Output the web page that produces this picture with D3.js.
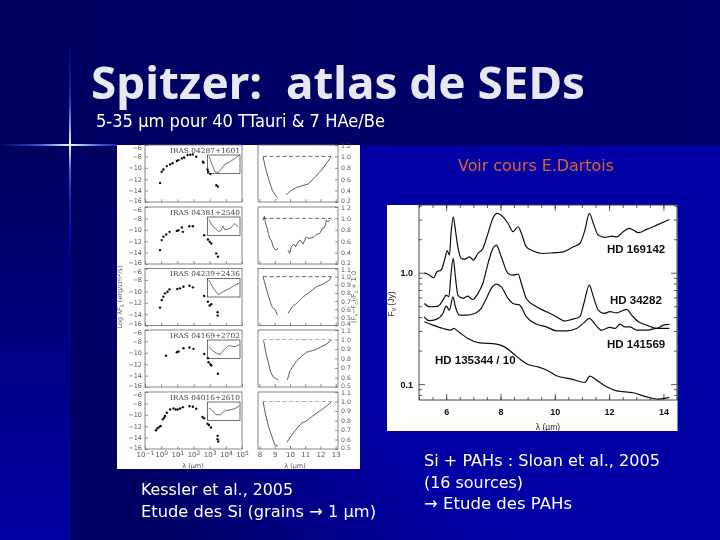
<!DOCTYPE html>
<html>
<head>
<meta charset="utf-8">
<script src="https://cdnjs.cloudflare.com/ajax/libs/d3/7.8.5/d3.min.js"></script>
<style>
  html, body { margin: 0; padding: 0; background: #000066; }
  svg { display: block; }
  text { white-space: pre; }
</style>
</head>
<body>
<svg width="720" height="540"></svg>
<script>
// slide text
var titleText = "Spitzer:  atlas de SEDs",
    subtitleText = "5-35 µm pour 40 TTauri & 7 HAe/Be",
    noteText = "Voir cours E.Dartois",
    leftCaption = ["Kessler et al., 2005", "Etude des Si (grains \u2192 1 µm)"],
    rightCaption = ["Si + PAHs : Sloan et al., 2005", "(16 sources)", "\u2192 Etude des PAHs"];

// left figure: one row per source
var sourceNames = ["IRAS 04287+1601", "IRAS 04381+2540", "IRAS 04239+2436", "IRAS 04169+2702", "IRAS 04016+2610"];

// SED points, log10(lambda/um) and log(lambda F)
var sed1Lam = [-.07, .035, .14, .35, .55, .70, .97, 1.07, 1.28, 1.42, 1.63, 1.80, 1.96, 2.17, 2.58, 2.62, 2.87, 2.91, 3.04, 3.41, 3.51],
    sed1Flux = [-12.65, -10.7, -10.3, -9.7, -9.4, -9.2, -8.8, -8.65, -8.35, -8.2, -7.75, -7.7, -7.65, -8.05, -8.95, -9.1, -10.3, -10.7, -11.1, -13.05, -13.3],
    sed2Lam = [-.07, .035, .14, .31, .52, .97, 1.07, 1.28, 1.34, 1.74, 1.96, 2.66, 2.89, 3.0, 3.1, 3.41, 3.51],
    sed2Flux = [-13.56, -11.81, -11.23, -10.83, -10.36, -10.19, -10.07, -9.6, -10.36, -9.37, -9.37, -10.94, -11.7, -12.1, -12.4, -14.14, -14.72],
    sed3Lam = [-.07, .035, .14, .24, .39, .51, 1.0, 1.17, 1.38, 1.75, 1.96, 2.66, 2.89, 3.0, 3.1, 3.49, 3.49],
    sed3Flux = [-12.86, -11.52, -10.95, -10.36, -10.08, -9.66, -9.6, -9.48, -9.2, -9.03, -9.31, -10.83, -11.82, -12.5, -12.27, -13.67, -14.26],
    sed4Lam = [.30, .97, 1.07, 1.38, 1.75, 2.0, 2.66, 2.89, 2.93, 3.04, 3.1, 3.51],
    sed4Flux = [-10.53, -9.9, -9.78, -9.2, -9.08, -9.31, -10.19, -10.94, -11.64, -11.99, -12.22, -13.67],
    sed5Lam = [-.32, -.23, -.11, -.03, .10, .18, .24, .35, .55, .76, .90, 1.03, 1.17, 1.34, 1.75, 1.96, 2.17, 2.56, 2.66, 2.87, 2.95, 3.08, 3.49, 3.49, 3.53],
    sed5Flux = [-12.71, -12.36, -12.13, -11.95, -10.8, -10.51, -10.22, -9.64, -9.06, -8.89, -9.06, -9.06, -8.89, -8.66, -8.49, -8.6, -8.95, -10.39, -10.62, -11.55, -11.78, -12.24, -13.69, -14.27, -14.68];

// silicate residuals, the null is the gap around 9.5 um
var res1Lam = [8.23, 8.40, 8.62, 8.84, 9.04, 9.17, 9.5, 9.76, 10.09, 10.42, 10.74, 11.18, 11.62, 12.06, 12.39, 12.71],
    res1Val = [.994, .788, .582, .406, .318, .288, null, .33, .406, .453, .482, .512, .629, .759, .876, .994],
    res2Lam = [8.23, 8.32, 8.40, 8.49, 8.58, 8.67, 8.78, 8.88, 9.04, 9.21, 9.5, 9.87, 9.98, 10.09, 10.24, 10.37, 10.53, 10.68, 10.85, 11.07, 11.25, 11.51, 11.73, 11.95, 12.12, 12.28, 12.39, 12.50, 12.65],
    res2Val = [.967, 1.037, .91, .84, .735, .648, .62, .514, .444, .473, null, .444, .386, .502, .549, .502, .59, .62, .549, .677, .648, .665, .717, .735, .822, .84, .967, .938, .979],
    res3Lam = [8.23, 8.45, 8.67, 8.82, 8.88, 9.04, 9.17, 9.5, 9.87, 10.15, 10.42, 10.85, 11.29, 11.73, 12.17, 12.60, 12.71],
    res3Val = [1.0, .85, .71, .63, .62, .59, .53, null, .55, .63, .67, .75, .81, .875, .91, .96, 1.0],
    res4Lam = [8.27, 8.40, 8.56, 8.71, 8.88, 9.04, 9.21, 9.5, 9.83, 9.98, 10.20, 10.42, 10.74, 11.07, 11.29, 11.62, 11.95, 12.39, 12.71],
    res4Val = [.99, .87, .77, .665, .61, .59, .575, null, .575, .665, .72, .77, .82, .865, .875, .89, .915, .95, .995],
    res5Lam = [8.23, 8.40, 8.62, 8.84, 9.0, 9.21, 9.5, 9.80, 10.09, 10.42, 10.74, 11.07, 11.51, 11.95, 12.39, 12.71],
    res5Val = [1.0, .86, .72, .62, .545, .53, null, .57, .64, .71, .77, .795, .85, .9, .95, .995];

var resDomains = [[.2, 1.2], [.2, 1.2], [.4, 1.1], [.5, 1.1], [.5, 1.1]],
    resTicks = [[.2, .4, .6, .8, 1.0, 1.2], [.2, .4, .6, .8, 1.0, 1.2], [.4, .5, .6, .7, .8, .9, 1.0, 1.1], [.5, .6, .7, .8, .9, 1.0, 1.1], [.5, .6, .7, .8, .9, 1.0, 1.1]],
    continuumEnds = [8.23, 12.71],
    sedFluxTicks = [-6, -8, -10, -12, -14, -16],
    sedLamTicks = [-1, 0, 1, 2, 3, 4, 5],
    resLamTicks = [8, 9, 10, 11, 12, 13];

// small insets, flux normalised to the box
var ins1Lam = [8.26, 8.66, 9.17, 9.68, 10.19, 10.70, 11.47, 12.23, 12.9],
    ins1Val = [.91, .51, .09, .05, .27, .51, .64, .82, 1],
    ins2Lam = [8.2, 8.66, 9.17, 9.68, 10.04, 10.35, 10.7, 11.47, 12.23, 12.74],
    ins2Val = [.86, .56, .39, .21, .26, .51, .30, .39, .65, .44],
    ins3Lam = [8.2, 8.92, 9.68, 10.45, 11.47, 12.23, 12.9],
    ins3Val = [.91, .47, .12, .30, .47, .65, .74],
    ins4Lam = [8.2, 8.66, 9.43, 9.94, 10.45, 11.21, 12.23, 12.9],
    ins4Val = [.64, .45, .27, .22, .45, .69, .64, .76],
    ins5Lam = [8.2, 8.66, 9.33, 9.94, 10.7, 11.47, 12.23, 12.9],
    ins5Val = [.67, .58, .31, .31, .53, .58, .64, .8];

var sedLams = [sed1Lam, sed2Lam, sed3Lam, sed4Lam, sed5Lam],
    sedFluxes = [sed1Flux, sed2Flux, sed3Flux, sed4Flux, sed5Flux],
    resLams = [res1Lam, res2Lam, res3Lam, res4Lam, res5Lam],
    resVals = [res1Val, res2Val, res3Val, res4Val, res5Val],
    insLams = [ins1Lam, ins2Lam, ins3Lam, ins4Lam, ins5Lam],
    insVals = [ins1Val, ins2Val, ins3Val, ins4Val, ins5Val];

// right figure: PAH spectra
var pahNames = ["HD 169142", "HD 34282", "HD 141569", "HD 135344 / 10"],
    hd169142Lam = [5.20, 5.38, 5.54, 5.66, 5.82, 5.94, 6.04, 6.12, 6.18, 6.26, 6.34, 6.43, 6.55, 6.68, 6.86, 7.0, 7.17, 7.35, 7.54, 7.72, 7.87, 8.09, 8.28, 8.46, 8.65, 8.77, 8.95, 9.2, 9.57, 9.94, 10.31, 10.68, 10.92, 11.11, 11.27, 11.42, 11.6, 11.85, 12.09, 12.28, 12.52, 12.74, 12.89, 13.08, 13.38, 13.75, 14.22],
    hd169142Flux = [1.00, .953, .902, 1.02, 1.06, 1.30, 1.58, 1.44, 2.26, 3.18, 2.42, 1.71, 1.35, 1.32, 1.39, 1.30, 1.49, 1.65, 2.26, 3.08, 3.41, 3.18, 2.77, 2.34, 2.59, 2.26, 1.71, 1.57, 1.49, 1.51, 1.54, 1.71, 1.83, 2.42, 3.41, 2.77, 2.18, 2.08, 2.13, 2.10, 2.34, 2.50, 2.42, 2.29, 2.45, 2.68, 3.01],
    hd34282Lam = [5.20, 5.38, 5.69, 5.88, 6.0, 6.10, 6.18, 6.26, 6.34, 6.43, 6.62, 6.8, 6.98, 7.17, 7.35, 7.54, 7.72, 7.85, 8.03, 8.28, 8.46, 8.65, 8.77, 8.95, 9.32, 9.69, 10.06, 10.37, 10.62, 10.92, 11.07, 11.27, 11.42, 11.6, 11.81, 12.03, 12.28, 12.65, 12.83, 13.08, 13.38, 13.75, 14.0, 14.22],
    hd34282Flux = [.53, .495, .50, .568, .63, .61, .986, 1.35, .92, .63, .588, .617, .575, .652, .80, 1.21, 1.65, 1.77, 1.39, .986, .953, .973, .80, .588, .495, .447, .403, .368, .381, .403, .53, .775, .61, .462, .431, .447, .437, .469, .417, .363, .339, .316, .339, .344],
    hd141569Lam = [5.20, 5.24, 5.38, 5.63, 5.88, 6.0, 6.12, 6.25, 6.34, 6.49, 6.74, 7.05, 7.29, 7.48, 7.66, 7.85, 8.03, 8.28, 8.46, 8.71, 8.95, 9.32, 9.69, 10.06, 10.43, 10.8, 11.05, 11.27, 11.48, 11.72, 12.03, 12.22, 12.40, 12.58, 12.77, 13.02, 13.38, 13.75, 14.22],
    hd141569Flux = [.403, .389, .371, .381, .431, .502, .462, .608, .495, .417, .417, .431, .478, .588, .723, .791, .748, .588, .53, .512, .403, .346, .327, .301, .301, .316, .351, .389, .346, .305, .323, .316, .346, .327, .327, .305, .305, .316, .316],
    hd135344Lam = [5.20, 5.51, 5.88, 6.18, 6.27, 6.49, 6.8, 7.23, 7.85, 8.15, 8.46, 8.77, 9.01, 9.38, 9.75, 10.06, 10.62, 11.11, 11.29, 11.54, 11.91, 12.28, 12.89, 13.38, 13.82, 14.22],
    hd135344Flux = [.363, .339, .316, .305, .316, .291, .257, .235, .229, .216, .189, .164, .150, .143, .132, .119, .111, .1035, .118, .1086, .0946, .0871, .0836, .0769, .0733, .0759];

var pahLamTicks = [6, 8, 10, 12, 14],
    pahFluxTicks = [.1, 1];

var svg = d3.select("svg");
var defs = svg.append("defs");

function gradient(id, x2, y2, stops) {
    var g = defs.append("linearGradient").attr("id", id)
        .attr("x1", 0).attr("y1", 0).attr("x2", x2).attr("y2", y2);
    stops.forEach(function (s) {
        g.append("stop").attr("offset", s[0]).attr("stop-color", s[1]).attr("stop-opacity", s[2] === undefined ? 1 : s[2]);
    });
}
gradient("bgLeft", 0, 1, [[0, "#00005e"], [1, "#0000a2"]]);
gradient("bgTop", 1, 0, [[0, "#000060"], [1, "#00006c"]]);
gradient("flareV", 0, 1, [[0, "#3050e0", 0], [.25, "#3858e0", .45], [.5, "#ffffff", 1], [.62, "#5878e8", .8], [.8, "#1828c0", .6], [1, "#0000c0", .35]]);
gradient("flareH", 1, 0, [[0, "#1030b0", .2], [.35, "#4070e0", .9], [.6, "#ffffff", 1], [.85, "#4070e0", .9], [1, "#2040d0", .7]]);

var bgMain = defs.append("radialGradient").attr("id", "bgMain").attr("gradientUnits", "userSpaceOnUse")
    .attr("cx", 620).attr("cy", 280).attr("r", 620);
bgMain.append("stop").attr("offset", .45).attr("stop-color", "#0000a4");
bgMain.append("stop").attr("offset", .85).attr("stop-color", "#000062");

defs.append("filter").attr("id", "softLeft").append("feGaussianBlur").attr("stdDeviation", .55);
defs.append("filter").attr("id", "softRight").append("feGaussianBlur").attr("stdDeviation", .45);

// slide background
svg.append("rect").attr("width", 720).attr("height", 146).attr("fill", "url(#bgTop)");
svg.append("rect").attr("y", 146).attr("width", 70).attr("height", 394).attr("fill", "url(#bgLeft)");
svg.append("rect").attr("x", 70).attr("y", 146).attr("width", 650).attr("height", 394).attr("fill", "url(#bgMain)");
svg.append("rect").attr("x", 69.5).attr("y", 200).attr("width", 1.5).attr("height", 340).attr("fill", "#0010b0").attr("opacity", .5);
svg.append("rect").attr("x", 69).attr("y", 40).attr("width", 2).attr("height", 210).attr("fill", "url(#flareV)");
svg.append("rect").attr("x", 0).attr("y", 144).attr("width", 117).attr("height", 2).attr("fill", "url(#flareH)");

// left figure
var leftFig = svg.append("g").attr("filter", "url(#softLeft)");
leftFig.append("rect").attr("x", 117).attr("y", 145).attr("width", 243).attr("height", 324).attr("fill", "#fff");

var rowTops = [145, 207, 268.5, 330, 392],
    rowH = 57,
    sedX = d3.scaleLinear().domain([-1, 5]).range([145, 242]),
    resX = d3.scaleLinear().domain([7.9, 13.15]).range([258, 338]),
    insX = d3.scaleLinear().domain([8, 13]).range([207.5, 240]);

var axisGrey = "#666", inkGrey = "#333";

function styleAxis(g, size) {
    g.selectAll(".domain").attr("stroke", "none");
    g.selectAll("line").attr("stroke", axisGrey).attr("stroke-width", .7);
    g.selectAll("text").attr("fill", "#555").attr("font-family", "DejaVu Sans").attr("font-size", size);
}

sourceNames.forEach(function (name, r) {
    var top = rowTops[r], bottom = top + rowH;
    var sedY = d3.scaleLinear().domain([-16, -6]).range([bottom, top]),
        resY = d3.scaleLinear().domain(resDomains[r]).range([bottom, top]),
        insY = d3.scaleLinear().domain([0, 1]).range([top + 28.5, top + 10]);
    var g = leftFig.append("g");

    // axes of the SED panel
    var ay = g.append("g").attr("transform", "translate(145,0)")
        .call(d3.axisLeft(sedY).tickValues(sedFluxTicks).tickSize(-3).tickPadding(3));
    styleAxis(ay, 6.5);
    ay.selectAll("text").attr("dy", function (d) { return d === -6 ? "0.7em" : d === -16 ? "0.02em" : "0.32em"; });
    var ax = g.append("g").attr("transform", "translate(0," + bottom + ")")
        .call(d3.axisBottom(sedX).tickValues(sedLamTicks).tickSize(-3).tickPadding(3).tickFormat(""));
    styleAxis(ax, 7);
    if (r === 4) {
        var lab = ax.selectAll("text").attr("dy", "0.7em");
        lab.text("10");
        lab.append("tspan").attr("dy", "-0.4em").attr("font-size", 6)
            .text(function (d) { return d3.format("d")(d); });
    }
    g.append("rect").attr("x", 145).attr("y", top).attr("width", 97).attr("height", rowH)
        .attr("fill", "none").attr("stroke", axisGrey).attr("stroke-width", .8);

    g.append("text").attr("x", 240).attr("y", top + 7.5).attr("text-anchor", "end")
        .attr("font-family", "DejaVu Serif").attr("font-size", 7).attr("fill", "#444")
        .attr("textLength", 70).attr("lengthAdjust", "spacingAndGlyphs").text(name);

    // inset
    g.append("rect").attr("x", insX.range()[0]).attr("y", insY(1)).attr("width", 32.5).attr("height", 18.5)
        .attr("fill", "none").attr("stroke", inkGrey).attr("stroke-width", .7);
    var insLine = d3.line().x(function (i) { return insX(insLams[r][i]); }).y(function (i) { return insY(insVals[r][i]); });
    g.append("path").attr("d", insLine(d3.range(insLams[r].length)))
        .attr("fill", "none").attr("stroke", inkGrey).attr("stroke-width", .7);

    // SED points
    g.append("g").selectAll("circle").data(d3.range(sedLams[r].length)).join("circle")
        .attr("cx", function (i) { return sedX(sedLams[r][i]); })
        .attr("cy", function (i) { return sedY(sedFluxes[r][i]); })
        .attr("r", 1.2).attr("fill", "#111");

    // axes of the residual panel
    var by = g.append("g").attr("transform", "translate(338,0)")
        .call(d3.axisRight(resY).tickValues(resTicks[r]).tickSize(-3).tickPadding(3).tickFormat(d3.format(".1f")));
    styleAxis(by, 6.2);
    by.selectAll("text").attr("dy", function (d) {
        return d === resDomains[r][1] ? "0.47em" : d === resDomains[r][0] ? "0.05em" : "0.32em";
    });
    var bx = g.append("g").attr("transform", "translate(0," + bottom + ")")
        .call(d3.axisBottom(resX).tickValues(resLamTicks).tickSize(-3).tickPadding(3).tickFormat(r === 4 ? d3.format("d") : ""));
    styleAxis(bx, 7);
    g.append("rect").attr("x", 258).attr("y", top).attr("width", 80).attr("height", rowH)
        .attr("fill", "none").attr("stroke", axisGrey).attr("stroke-width", .8);

    // continuum level and residual curve
    g.append("line").attr("x1", resX(continuumEnds[0])).attr("x2", resX(continuumEnds[1]))
        .attr("y1", resY(1)).attr("y2", resY(1))
        .attr("stroke", r < 3 ? "#444" : "#999").attr("stroke-width", .8).attr("stroke-dasharray", "4,2.5");
    var resLine = d3.line()
        .defined(function (i) { return resVals[r][i] !== null; })
        .x(function (i) { return resX(resLams[r][i]); })
        .y(function (i) { return resY(resVals[r][i]); });
    g.append("path").attr("d", resLine(d3.range(resLams[r].length)))
        .attr("fill", "none").attr("stroke", inkGrey).attr("stroke-width", .8);
});

function leftLabel(x, y, rot, parts) {
    var t = leftFig.append("text")
        .attr("transform", "translate(" + x + "," + y + ")" + (rot ? " rotate(-90)" : ""))
        .attr("text-anchor", "middle").attr("font-family", "DejaVu Sans").attr("font-size", 6.5).attr("fill", "#555");
    parts.forEach(function (p) {
        t.append("tspan").attr("dy", p[1] || null).attr("font-size", p[2] || null).text(p[0]);
    });
}
leftLabel(193, 468, false, [["\u03bb (\u00b5m)"]]);
leftLabel(295, 468, false, [["\u03bb (\u00b5m)"]]);
leftLabel(122, 297, true, [["Log \u03bbF", 0], ["\u03bb", 1.5, 5], [" (erg/cm", -1.5], ["2", -2, 5], ["/s)", 2]]);
leftLabel(356, 297, true, [["(F", 0], ["\u03bd", 1.5, 5], ["\u2212F", -1.5], ["c", 1.5, 5], [")/F", -1.5], ["c", 1.5, 5], [" + 1.0", -1.5]]);

// right figure
var rightFig = svg.append("g").attr("filter", "url(#softRight)");
rightFig.append("rect").attr("x", 387).attr("y", 205).attr("width", 290.5).attr("height", 226).attr("fill", "#fff");

var pahX = d3.scaleLinear().domain([5, 14.5]).range([419, 677]),
    pahY = d3.scaleLog().domain([.072, 4.06]).range([400, 205]);

function pahAxis(axis, x, y) {
    var g = rightFig.append("g").attr("transform", "translate(" + x + "," + y + ")").call(axis);
    g.selectAll(".domain").attr("stroke", "none");
    g.selectAll("line").attr("stroke", "#333").attr("stroke-width", .8);
    g.selectAll("text").attr("fill", "#111").attr("font-family", "Liberation Sans").attr("font-weight", "bold").attr("font-size", 9);
    return g;
}
var lamMinor = d3.range(5, 14.6, .5),
    fluxMinor = [.08, .09, .2, .3, .4, .5, .6, .7, .8, .9, 2, 3, 4];
pahAxis(d3.axisBottom(pahX).tickValues(pahLamTicks).tickSize(-6).tickPadding(9).tickFormat(d3.format("d")), 0, 400);
pahAxis(d3.axisBottom(pahX).tickValues(lamMinor).tickSize(-3).tickFormat(""), 0, 400);
pahAxis(d3.axisTop(pahX).tickValues(pahLamTicks).tickSize(-6).tickFormat(""), 0, 205);
pahAxis(d3.axisTop(pahX).tickValues(lamMinor).tickSize(-3).tickFormat(""), 0, 205);
pahAxis(d3.axisLeft(pahY).tickValues(pahFluxTicks).tickSize(-6).tickPadding(6).tickFormat(d3.format(".1f")), 419, 0);
pahAxis(d3.axisLeft(pahY).tickValues(fluxMinor).tickSize(-3).tickFormat(""), 419, 0);
pahAxis(d3.axisRight(pahY).tickValues(pahFluxTicks).tickSize(-6).tickFormat(""), 677, 0);
pahAxis(d3.axisRight(pahY).tickValues(fluxMinor).tickSize(-3).tickFormat(""), 677, 0);
rightFig.append("rect").attr("x", 419).attr("y", 205).attr("width", 258).attr("height", 195)
    .attr("fill", "none").attr("stroke", "#333").attr("stroke-width", .9);

var pahLine = d3.line().curve(d3.curveMonotoneX)
    .x(function (d) { return pahX(d[0]); })
    .y(function (d) { return pahY(d[1]); });
[[hd169142Lam, hd169142Flux], [hd34282Lam, hd34282Flux], [hd141569Lam, hd141569Flux], [hd135344Lam, hd135344Flux]].forEach(function (s) {
    rightFig.append("path").attr("d", pahLine(d3.zip(s[0], s[1])))
        .attr("fill", "none").attr("stroke", "#111").attr("stroke-width", 1.2);
});

function pahLabel(name, x, y) {
    rightFig.append("text").attr("x", x).attr("y", y).attr("font-family", "Liberation Sans")
        .attr("font-weight", "bold").attr("font-size", 11.5).attr("fill", "#111").text(name);
}
pahLabel(pahNames[0], 607, 253);
pahLabel(pahNames[1], 610, 304);
pahLabel(pahNames[2], 607, 348);
pahLabel(pahNames[3], 435, 364);

rightFig.append("text").attr("x", 548).attr("y", 430).attr("text-anchor", "middle")
    .attr("font-family", "Liberation Sans").attr("font-size", 8.5).attr("fill", "#222").text("\u03bb (\u00b5m)");
var fy = rightFig.append("text").attr("transform", "translate(394,304) rotate(-90)").attr("text-anchor", "middle")
    .attr("font-family", "Liberation Sans").attr("font-size", 8.5).attr("fill", "#222").text("F");
fy.append("tspan").attr("dy", 2).attr("font-size", 6.5).text("\u03bd");
fy.append("tspan").attr("dy", -2).text(" (Jy)");

// slide text
function slideText(str, x, y, size, fill, width, family, bold) {
    svg.append("text").attr("x", x).attr("y", y)
        .attr("font-family", family).attr("font-size", size)
        .attr("font-weight", bold ? "bold" : "normal").attr("fill", fill)
        .attr("textLength", width).attr("lengthAdjust", "spacingAndGlyphs").text(str);
}
slideText(titleText, 91, 99, 45, "#e8e8f2", 494, "Noto Sans", true);
slideText(subtitleText, 96, 127, 17, "#ffffff", 289, "DejaVu Sans");
slideText(noteText, 458, 171, 16, "#e06038", 156, "DejaVu Sans");
slideText(leftCaption[0], 141, 495, 16, "#ffffff", 152, "DejaVu Sans");
slideText(leftCaption[1], 141, 517, 16, "#ffffff", 235, "DejaVu Sans");
slideText(rightCaption[0], 424, 466, 16, "#ffffff", 236, "DejaVu Sans");
slideText(rightCaption[1], 424, 488, 16, "#ffffff", 99, "DejaVu Sans");
slideText(rightCaption[2], 424, 509, 16, "#ffffff", 148, "DejaVu Sans");
</script>
</body>
</html>
